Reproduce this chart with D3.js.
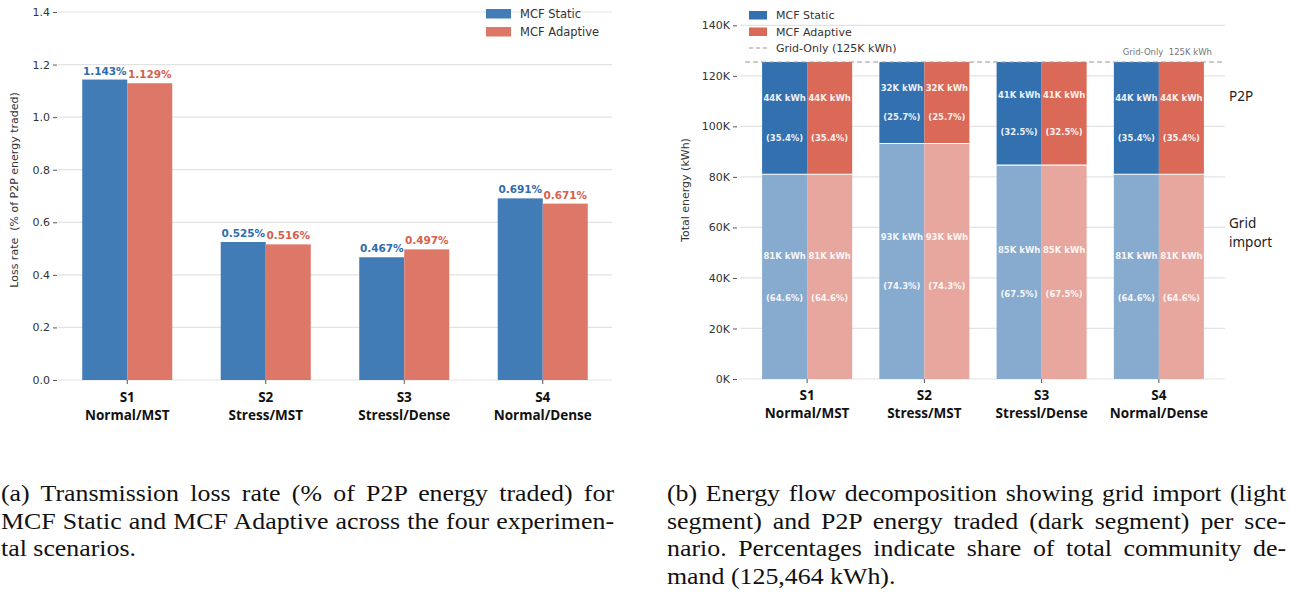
<!DOCTYPE html>
<html>
<head>
<meta charset="utf-8">
<script src="https://cdn.jsdelivr.net/npm/d3@7"></script>
<style>
  html, body { margin: 0; padding: 0; background: #fff; }
  svg { display: block; }
  .tick text { font-family: "DejaVu Sans", sans-serif; font-size: 11px; fill: #333; }
  .tick line { stroke: #555; }
  .tick text.xcat { font-family: "Open Sans", "Noto Sans", sans-serif; font-weight: 700; font-size: 13.5px; fill: #111; }
  .caption { font-family: "Liberation Serif", serif; font-size: 22.5px; fill: #111; white-space: pre; }
</style>
</head>
<body>
<svg id="fig" width="1290" height="595"></svg>
<script>
// Scenarios
const categories = ["S1", "S2", "S3", "S4"];
const scenarioNames = ["Normal/MST", "Stress/MST", "Stressl/Dense", "Normal/Dense"];
const seriesNames = ["MCF Static", "MCF Adaptive"];

// (a) transmission loss rate, % of P2P energy traded
const lossStatic = [1.143, 0.525, 0.467, 0.691];
const lossAdaptive = [1.129, 0.516, 0.497, 0.671];
const lossTicks = [0, 0.2, 0.4, 0.6, 0.8, 1.0, 1.2, 1.4];

// (b) energy decomposition, kWh
const totalDemand = 125464;
const gridStatic = [81050, 93220, 84688, 81050];
const gridAdaptive = [81050, 93220, 84688, 81050];
const p2pStatic = [44414, 32244, 40776, 44414];
const p2pAdaptive = [44414, 32244, 40776, 44414];
const gridPct = [64.6, 74.3, 67.5, 64.6];
const p2pPct = [35.4, 25.7, 32.5, 35.4];
const energyTicks = [0, 20000, 40000, 60000, 80000, 100000, 120000, 140000];

const captionA = [
  "(a) Transmission loss rate (% of P2P energy traded) for",
  "MCF Static and MCF Adaptive across the four experimen-",
  "tal scenarios."
];
const captionB = [
  "(b) Energy flow decomposition showing grid import (light",
  "segment) and P2P energy traded (dark segment) per sce-",
  "nario. Percentages indicate share of total community de-",
  "mand (125,464 kWh)."
];

const svg = d3.select("#fig");
svg.append("rect").attr("width", 1290).attr("height", 595).attr("fill", "#fff");

const colA = { s: "#427cb6", a: "#dd7868", sText: "#2f6cb0", aText: "#d8604c" };
const colB = { sDark: "#3270b0", aDark: "#da6957", sLight: "#87aacf", aLight: "#e8a79e" };

function catLabels(g, y0) {
  g.selectAll(".tick text").remove();
  g.selectAll(".tick").each(function (d, i) {
    const t = d3.select(this).append("text").attr("class", "xcat").attr("text-anchor", "middle");
    t.append("tspan").attr("x", 0).attr("y", y0).text(d);
    t.append("tspan").attr("x", 0).attr("y", y0 + 18).text(scenarioNames[i]);
  });
}

// ---------- (a) loss rate grouped bars ----------
{
  const x = d3.scaleBand().domain(categories).range([58, 612]).padding(0);
  const y = d3.scaleLinear().domain([0, 1.4]).range([380, 12]);
  const bw = x.bandwidth() * 0.325;
  const g = svg.append("g");

  g.append("g").selectAll("line").data(lossTicks).join("line")
    .attr("x1", 58).attr("x2", 612)
    .attr("y1", d => y(d)).attr("y2", d => y(d))
    .attr("stroke", "#e3e3e3").attr("stroke-width", 1.2);

  const ya = g.append("g").attr("transform", "translate(57,0)")
    .call(d3.axisLeft(y).tickValues(lossTicks).tickFormat(d3.format(".1f")).tickSize(4).tickPadding(3));
  ya.select(".domain").remove();

  const xa = g.append("g").attr("transform", "translate(0,380)")
    .call(d3.axisBottom(x).tickSize(4));
  xa.select(".domain").remove();
  catLabels(xa, 22);

  const cx = d => x(d) + x.bandwidth() / 2;
  g.selectAll(".bs").data(categories).join("rect")
    .attr("x", d => cx(d) - bw).attr("width", bw)
    .attr("y", (d, i) => y(lossStatic[i])).attr("height", (d, i) => y(0) - y(lossStatic[i]))
    .attr("fill", colA.s);
  g.selectAll(".ba").data(categories).join("rect")
    .attr("x", d => cx(d)).attr("width", bw)
    .attr("y", (d, i) => y(lossAdaptive[i])).attr("height", (d, i) => y(0) - y(lossAdaptive[i]))
    .attr("fill", colA.a);

  const lab = (vals, off, fill) => g.append("g").selectAll("text").data(categories).join("text")
    .attr("x", d => cx(d) + off).attr("y", (d, i) => y(vals[i]) - 5)
    .attr("text-anchor", "middle")
    .attr("font-family", "DejaVu Sans, sans-serif").attr("font-weight", 700).attr("font-size", 10.5)
    .attr("fill", fill)
    .text((d, i) => vals[i].toFixed(3) + "%");
  lab(lossStatic, -bw / 2, colA.sText);
  lab(lossAdaptive, bw / 2, colA.aText);

  g.append("text")
    .attr("transform", "translate(18,190) rotate(-90)")
    .attr("text-anchor", "middle")
    .attr("font-family", "DejaVu Sans, sans-serif").attr("font-size", 11).attr("fill", "#333")
    .style("white-space", "pre")
    .text("Loss rate  (% of P2P energy traded)");

  const lg = g.append("g").attr("transform", "translate(486,9)");
  [colA.s, colA.a].forEach((c, i) => {
    lg.append("rect").attr("x", 0).attr("y", i * 18).attr("width", 25).attr("height", 9.5).attr("fill", c);
    lg.append("text").attr("x", 34).attr("y", i * 18 + 9)
      .attr("font-family", "DejaVu Sans, sans-serif").attr("font-size", 11.5).attr("fill", "#333")
      .text(seriesNames[i]);
  });
}

// ---------- (b) stacked energy decomposition ----------
{
  const x = d3.scaleBand().domain(categories).range([748.5, 1217.5]).padding(0);
  const y = d3.scaleLinear().domain([0, 140000]).range([379, 25.3]);
  const bw = x.bandwidth() * 0.384;
  const g = svg.append("g");

  g.append("g").selectAll("line").data(energyTicks).join("line")
    .attr("x1", 740).attr("x2", 1225)
    .attr("y1", d => y(d)).attr("y2", d => y(d))
    .attr("stroke", "#e3e3e3").attr("stroke-width", 1.2);

  const ya = g.append("g").attr("transform", "translate(737,0)")
    .call(d3.axisLeft(y).tickValues(energyTicks).tickFormat(d => (d / 1000) + "K").tickSize(4).tickPadding(3));
  ya.select(".domain").remove();

  const xa = g.append("g").attr("transform", "translate(0,379)")
    .call(d3.axisBottom(x).tickSize(4));
  xa.select(".domain").remove();
  catLabels(xa, 21);

  const cx = d => x(d) + x.bandwidth() / 2;
  const series = [
    { grid: gridStatic, p2p: p2pStatic, off: -bw, light: colB.sLight, dark: colB.sDark },
    { grid: gridAdaptive, p2p: p2pAdaptive, off: 0, light: colB.aLight, dark: colB.aDark }
  ];
  const lblFont = sel => sel.attr("text-anchor", "middle")
    .attr("font-family", "DejaVu Sans, sans-serif").attr("font-weight", 700).attr("font-size", 8.5)
    .attr("fill", "#fff").attr("fill-opacity", 0.92);

  series.forEach(s => {
    const sg = g.append("g");
    sg.selectAll(".grid").data(categories).join("rect")
      .attr("x", d => cx(d) + s.off).attr("width", bw)
      .attr("y", (d, i) => y(s.grid[i])).attr("height", (d, i) => y(0) - y(s.grid[i]))
      .attr("fill", s.light);
    sg.selectAll(".p2p").data(categories).join("rect")
      .attr("x", d => cx(d) + s.off).attr("width", bw)
      .attr("y", (d, i) => y(s.grid[i] + s.p2p[i])).attr("height", (d, i) => y(s.grid[i]) - y(s.grid[i] + s.p2p[i]))
      .attr("fill", s.dark);
    // white seam between stacked segments
    sg.selectAll(".seam").data(categories).join("line")
      .attr("x1", d => cx(d) + s.off).attr("x2", d => cx(d) + s.off + bw)
      .attr("y1", (d, i) => y(s.grid[i])).attr("y2", (d, i) => y(s.grid[i]))
      .attr("stroke", "#fff").attr("stroke-width", 1.2);

    categories.forEach((d, i) => {
      const xm = cx(d) + s.off + bw / 2;
      // P2P segment labels
      const pTop = y(s.grid[i] + s.p2p[i]), pBot = y(s.grid[i]);
      const pMid = (pTop + pBot) / 2, pOff = (pBot - pTop) * 0.18;
      sg.append("text").call(lblFont).attr("x", xm).attr("y", pMid - pOff + 3)
        .text(Math.round(s.p2p[i] / 1000) + "K kWh");
      sg.append("text").call(lblFont).attr("x", xm).attr("y", pMid + pOff + 3)
        .text("(" + p2pPct[i].toFixed(1) + "%)");
      // grid segment labels
      const gTop = y(s.grid[i]), gBot = y(0);
      const gMid = (gTop + gBot) / 2, gOff = (gBot - gTop) * 0.103;
      sg.append("text").call(lblFont).attr("x", xm).attr("y", gMid - gOff + 3)
        .text(Math.round(s.grid[i] / 1000) + "K kWh");
      sg.append("text").call(lblFont).attr("x", xm).attr("y", gMid + gOff + 3)
        .text("(" + gridPct[i].toFixed(1) + "%)");
    });
  });

  // grid-only reference
  g.append("line")
    .attr("x1", 745).attr("x2", 1225).attr("y1", y(totalDemand)).attr("y2", y(totalDemand))
    .attr("stroke", "#999").attr("stroke-width", 1.1).attr("stroke-dasharray", "5,3");
  g.append("text").attr("x", 1212).attr("y", y(totalDemand) - 7)
    .attr("text-anchor", "end").attr("font-family", "DejaVu Sans, sans-serif").attr("font-size", 8.5)
    .attr("fill", "#777").style("white-space", "pre")
    .text("Grid-Only  " + Math.round(totalDemand / 1000) + "K kWh");

  // segment names on the right
  const sideText = (yy, t) => g.append("text").attr("x", 1229).attr("y", yy)
    .attr("font-family", "Noto Sans, sans-serif").attr("font-size", 13.5).attr("fill", "#222").text(t);
  sideText(y(gridStatic[0] + p2pStatic[0] / 2) - 17, "P2P");
  sideText(228, "Grid");
  sideText(247, "import");

  g.append("text")
    .attr("transform", "translate(689,190) rotate(-90)")
    .attr("text-anchor", "middle")
    .attr("font-family", "DejaVu Sans, sans-serif").attr("font-size", 11).attr("fill", "#333")
    .text("Total energy (kWh)");

  const lg = g.append("g").attr("transform", "translate(749,0)");
  [colB.sDark, colB.aDark].forEach((c, i) => {
    lg.append("rect").attr("x", 0).attr("y", 11 + i * 16.5).attr("width", 18).attr("height", 8.5).attr("fill", c);
    lg.append("text").attr("x", 27).attr("y", 19 + i * 16.5)
      .attr("font-family", "DejaVu Sans, sans-serif").attr("font-size", 11).attr("fill", "#333")
      .text(seriesNames[i]);
  });
  lg.append("line").attr("x1", 0).attr("x2", 18).attr("y1", 48).attr("y2", 48)
    .attr("stroke", "#999").attr("stroke-width", 1.1).attr("stroke-dasharray", "4,3");
  lg.append("text").attr("x", 27).attr("y", 52)
    .attr("font-family", "DejaVu Sans, sans-serif").attr("font-size", 11).attr("fill", "#333")
    .text("Grid-Only (" + Math.round(totalDemand / 1000) + "K kWh)");
}

// ---------- captions: widened serif, justified by word spacing ----------
function caption(lines, x0, width, y0) {
  const sx = 1.15;
  lines.forEach((t, i) => {
    const e = svg.append("text").attr("class", "caption")
      .attr("transform", `translate(${x0},${y0 + i * 27.5}) scale(${sx},1)`)
      .text(t);
    if (i < lines.length - 1) {
      const natural = e.node().getComputedTextLength();
      const gaps = (t.match(/ /g) || []).length;
      if (gaps) e.style("word-spacing", ((width / sx - natural) / gaps) + "px");
    }
  });
}
caption(captionA, 1, 613, 501);
caption(captionB, 667, 619, 501);
</script>
</body>
</html>
